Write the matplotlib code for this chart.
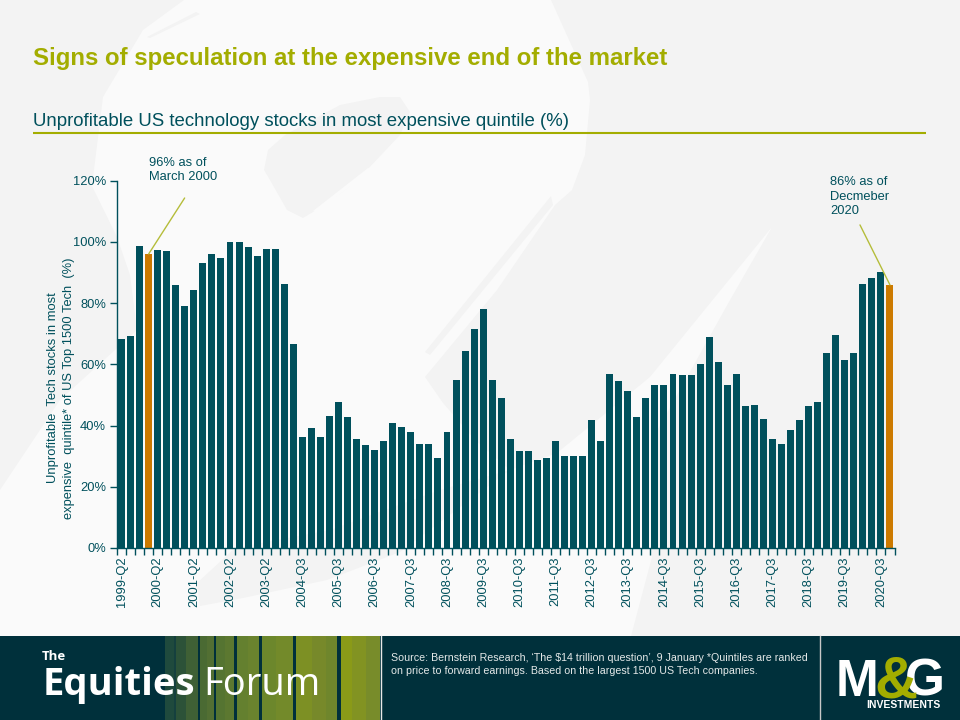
import numpy as np
import matplotlib
matplotlib.use("Agg")
import matplotlib.pyplot as plt
from matplotlib.patches import Polygon, Rectangle

plt.rcParams['font.family'] = ['Liberation Sans', 'DejaVu Sans']

# data
values = [68.2, 69.2, 98.6, 96, 97.3, 97, 85.9, 79, 84.2, 93, 96, 94.7, 100, 100, 98.3, 95.3,
          97.6, 97.6, 86.2, 66.6, 36.4, 39.2, 36.4, 43.1, 47.7, 42.8, 35.6, 33.5, 32, 34.9,
          40.8, 39.5, 37.9, 34, 34, 29.4, 37.9, 54.9, 64.3, 71.5, 78, 54.9, 49, 35.6, 31.7,
          31.7, 28.7, 29.4, 34.9, 30, 30, 30, 41.8, 34.9, 56.8, 54.5, 51.3, 42.8, 49, 53.2,
          53.2, 56.8, 56.5, 56.5, 60, 68.9, 60.7, 53.2, 56.8, 46.4, 46.7, 42.1, 35.6, 34,
          38.5, 41.8, 46.4, 47.7, 63.7, 69.6, 61.4, 63.7, 86.2, 88.2, 90.1, 85.9]
highlight = [3, 85]
tick_labels = ['1999-Q2', '2000-Q2', '2001-Q2', '2002-Q2', '2003-Q2', '2004-Q3', '2005-Q3', '2006-Q3',
               '2007-Q3', '2008-Q3', '2009-Q3', '2010-Q3', '2011-Q3', '2012-Q3', '2013-Q3', '2014-Q3',
               '2015-Q3', '2016-Q3', '2017-Q3', '2018-Q3', '2019-Q3', '2020-Q3']
y_ticks = [0, 20, 40, 60, 80, 100, 120]

TEAL = '#00505c'
ORANGE = '#cc7a00'
OLIVE = '#a3ad00'
DARK = '#00303b'
LIGHT = '#fafafa'
GREY = '#f3f3f3'

fig = plt.figure(figsize=(9.6, 7.2), dpi=100, facecolor=GREY)

# full figure axes in pixels, for the slide furniture
bg = fig.add_axes([0, 0, 1, 1], zorder=0)
bg.set_xlim(0, 960)
bg.set_ylim(720, 0)
bg.axis('off')

# the faint swoosh behind the chart
bg.add_patch(Polygon([(184, 0), (143, 30), (103, 97), (92, 186), (117, 237), (130, 275), (137, 330),
                      (60, 400), (0, 490), (0, 640), (630, 640), (652, 557), (652, 440), (730, 300),
                      (772, 227), (650, 377), (557, 453), (510, 470), (475, 440), (443, 403), (425, 377),
                      (497, 290), (555, 205), (572, 190), (585, 155), (590, 100), (588, 82), (551, 0)],
                     fc=LIGHT, ec='none'))
bg.add_patch(Polygon([(400, 97), (410, 112), (400, 135), (367, 170), (345, 190), (313, 212), (303, 218),
                      (287, 210), (270, 180), (264, 170), (268, 150), (285, 135), (340, 105), (380, 97)],
                     fc=GREY, ec='none'))
bg.add_patch(Polygon([(368, 168), (313, 211), (317, 212), (372, 170)], fc=LIGHT, ec='none'))
bg.add_patch(Polygon([(551, 196), (553, 205), (430, 355), (425, 352)], fc=GREY, ec='none'))
bg.add_patch(Polygon([(197, 583), (235, 548), (330, 530), (440, 490), (510, 470), (400, 552), (327, 580),
                      (243, 598), (200, 606)], fc=GREY, ec='none'))
bg.add_patch(Polygon([(196, 12), (147, 37), (150, 38), (200, 14)], fc=GREY, ec='none'))

# headings
bg.text(33, 59, 'Signs of speculation at the expensive end of the market', color=OLIVE,
        fontsize=17.25, fontweight='bold', va='center', ha='left')
bg.text(33, 121, 'Unprofitable US technology stocks in most expensive quintile (%)', color=TEAL,
        fontsize=13.45, va='center', ha='left')
bg.plot([33, 926], [133, 133], color=OLIVE, lw=1.5, solid_capstyle='butt')

# the chart
ax = fig.add_axes([117 / 960, 1 - 548 / 720, (894.5 - 117) / 960, (548 - 180.5) / 720], zorder=2)
ax.patch.set_alpha(0)
x = np.arange(len(values))
colors = [ORANGE if i in highlight else TEAL for i in x]
ax.bar(x, values, width=0.77, color=colors)
ax.set_xlim(-0.5, len(values) - 0.5)
ax.set_ylim(0, 120)

for s in ['top', 'right']:
    ax.spines[s].set_visible(False)
for s in ['left', 'bottom']:
    ax.spines[s].set_color(TEAL)
    ax.spines[s].set_linewidth(1)

ax.set_yticks(y_ticks)
ax.set_yticklabels(['%d%%' % v for v in y_ticks], fontsize=9.3, color=TEAL)
ax.tick_params(axis='y', color=TEAL, length=5, width=1, pad=3)

ax.set_xticks(x[::4])
ax.set_xticklabels(tick_labels, rotation=90, fontsize=9.3, color=TEAL)
ax.set_xticks(np.arange(-0.5, len(values)), minor=True)
ax.tick_params(axis='x', which='major', length=0, pad=6)
ax.tick_params(axis='x', which='minor', color=TEAL, length=5, width=1)

# call-out lines
ax.annotate('', xy=(3, values[3]), xytext=(36, 56), textcoords='offset pixels',
            arrowprops=dict(arrowstyle='-', color='#b5bd3a', lw=1, shrinkA=0, shrinkB=0))
ax.annotate('', xy=(85, values[85]), xytext=(-30, 60), textcoords='offset pixels',
            arrowprops=dict(arrowstyle='-', color='#b5bd3a', lw=1, shrinkA=0, shrinkB=0))

bg.text(149, 170, '96% as of\nMarch 2000', color=TEAL, fontsize=9.3, va='center', ha='left', linespacing=1.3)
bg.text(830, 196.5, '86% as of\nDecmeber\n2020', color=TEAL, fontsize=9.3, va='center', ha='left', linespacing=1.3)

bg.text(53, 388, 'Unprofitable  Tech stocks in most', color=TEAL, fontsize=9.4, rotation=90, va='center', ha='center')
bg.text(69, 388, 'expensive  quintile* of US Top 1500 Tech  (%)', color=TEAL, fontsize=9.3, rotation=90,
        va='center', ha='center')

# footer band
bg.add_patch(Rectangle((0, 636), 960, 84, fc=DARK, ec='none'))
stripes = [(165, 174, '#1f4a3d'), (174, 176, '#15403e'), (176, 186, '#2c5238'), (186, 198, '#3f6035'),
           (200, 207, '#4a6a33'), (207, 214, '#526f33'), (216, 225, '#557431'), (225, 234, '#5c7830'),
           (237, 248, '#64802f'), (248, 259, '#6a832e'), (262, 276, '#6c872c'), (276, 293, '#738a2a'),
           (296, 312, '#7d9024'), (312, 326, '#77892a'), (326, 337, '#6f862c'), (341, 352, '#8a9a18'),
           (352, 366, '#829322'), (366, 380, '#788c2a')]
for x0, x1, c in stripes:
    bg.add_patch(Rectangle((x0, 636), x1 - x0, 84, fc=c, ec='none'))
bg.plot([380.5, 380.5], [636, 720], color='#e8e8e8', lw=1)
bg.plot([820, 820], [636, 720], color='#c8c8c8', lw=1)

bg.text(42, 657, 'The', color='white', fontsize=9.5, fontweight='bold', family='Open Sans', va='center')
bg.text(43, 695, 'Equities', color='white', fontsize=27.5, fontweight='bold', family='Open Sans', va='baseline')
bg.text(203, 695, 'Forum', color='white', fontsize=27.5, family='Open Sans', va='baseline')

bg.text(391, 658, 'Source: Bernstein Research, \u2018The $14 trillion question\u2019, 9 January *Quintiles are ranked',
        color='#e4e8e8', fontsize=7.65, va='center')
bg.text(391, 671, 'on price to forward earnings. Based on the largest 1500 US Tech companies.',
        color='#e4e8e8', fontsize=7.65, va='center')

# logo as text
bg.text(836, 696, 'M', color='white', fontsize=37, fontweight='bold', va='baseline')
bg.text(905, 696, 'G', color='white', fontsize=37, fontweight='bold', va='baseline')
bg.text(874, 697, '&', color=OLIVE, fontsize=43, fontweight='bold', va='baseline', ha='left')
bg.text(866, 705, 'INVESTMENTS', color='white', fontsize=7.5, fontweight='bold', va='center')

fig.savefig('out.png', dpi=100, facecolor=fig.get_facecolor())
